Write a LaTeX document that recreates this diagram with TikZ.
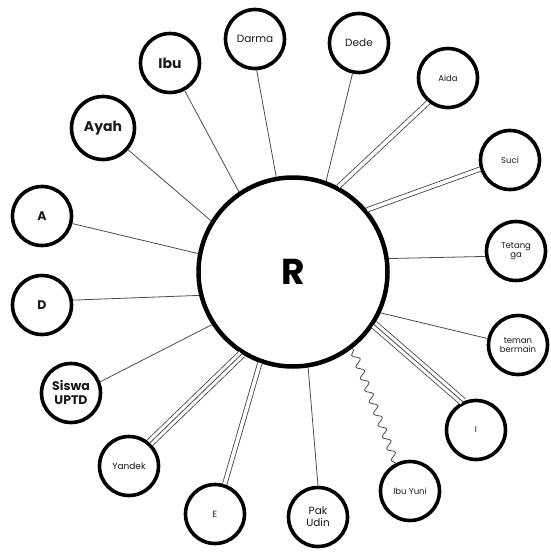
\documentclass[tikz,border=0pt]{standalone}
\usepackage{fontspec}
\setmainfont{Poppins}
\usetikzlibrary{decorations.pathmorphing}
\begin{document}
\begin{tikzpicture}[x=1pt,y=-1pt,
 pnode/.style={circle,draw=black,line width=3.6pt,minimum size=59pt,inner sep=0pt,align=center,text=black!90,font=\fontsize{8.5}{9.5}\selectfont},
 bignode/.style={pnode,minimum size=63pt},
 rnode/.style={circle,draw=black,line width=4.5pt,minimum size=189pt,inner sep=0pt,font=\fontsize{36}{40}\selectfont\bfseries},
 link/.style={draw=black!70,line width=0.8pt},
 dlink/.style={draw=black!75,line width=0.8pt,double=white,double distance=3.6pt},
 tlink/.style={draw=black!75,line width=0.8pt,double=white,double distance=7pt},
 wlink/.style={draw=black!70,line width=0.8pt,decorate,decoration={snake,amplitude=3.5pt,segment length=12.5pt}},
 fbig/.style={font=\fontsize{14}{16}\selectfont\bfseries},
 fmid/.style={font=\fontsize{12.5}{14}\selectfont\bfseries},
 fsm/.style={font=\fontsize{10.5}{12}\selectfont},
]
\useasboundingbox (0,0) rectangle (550,552);
\node[rnode] (R) at (293,272) {R};
\node[pnode,fsm] (Darma) at (255,39) {Darma};
\node[pnode,fsm] (Dede) at (359,43) {Dede};
\node[pnode] (Aida) at (448,78) {Aida};
\node[pnode] (Suci) at (510,160) {Suci};
\node[pnode] (Tetangga) at (516,251) {Tetang\\ga};
\node[pnode] (teman) at (518,345) {teman\\bermain};
\node[pnode] (I) at (476,430) {I};
\node[pnode] (IbuYuni) at (410,491) {Ibu Yuni};
\node[pnode,fsm] (PakUdin) at (318,517) {Pak\\Udin};
\node[pnode,font=\fontsize{9}{10}\selectfont] (E) at (215,514) {E};
\node[pnode,font=\fontsize{9}{10}\selectfont] (Yandek) at (129,466) {Yandek};
\node[pnode,fmid] (Siswa) at (71,393) {Siswa\\UPTD};
\node[pnode,fmid] (D) at (42,305) {D};
\node[pnode,fmid] (A) at (42,216) {A};
\node[bignode,fbig] (Ayah) at (103,128) {Ayah};
\node[pnode,fbig] (Ibu) at (170,63) {Ibu};

\draw[link] (Darma.273) -- (R.100);
\draw[link] (Ibu.298) -- (R.124);
\draw[link] (Ayah.319) -- (R.148);
\draw[link] (A.346) -- (R.169);
\draw[link] (D.9) -- (R.194);
\draw[link] (Siswa.21) -- (R.213);
\draw[tlink] (Yandek.48) -- (R.238);
\draw[link] (Yandek.48) -- (R.238);
\draw[dlink] (E.72) -- (R.250);
\draw[link] (PakUdin.90) -- (R.279);
\draw[wlink] (IbuYuni.117) -- (R.308);
\draw[tlink] (I.115) -- (R.327);
\draw[link] (I.115) -- (R.327);
\draw[link] (teman.168) -- (R.335);
\draw[link] (Tetangga.190) -- (R.8);
\draw[dlink] (Suci.197) -- (R.40);
\draw[dlink] (Aida.231) -- (R.62);
\draw[link] (Dede.258) -- (R.70);
\end{tikzpicture}
\end{document}
